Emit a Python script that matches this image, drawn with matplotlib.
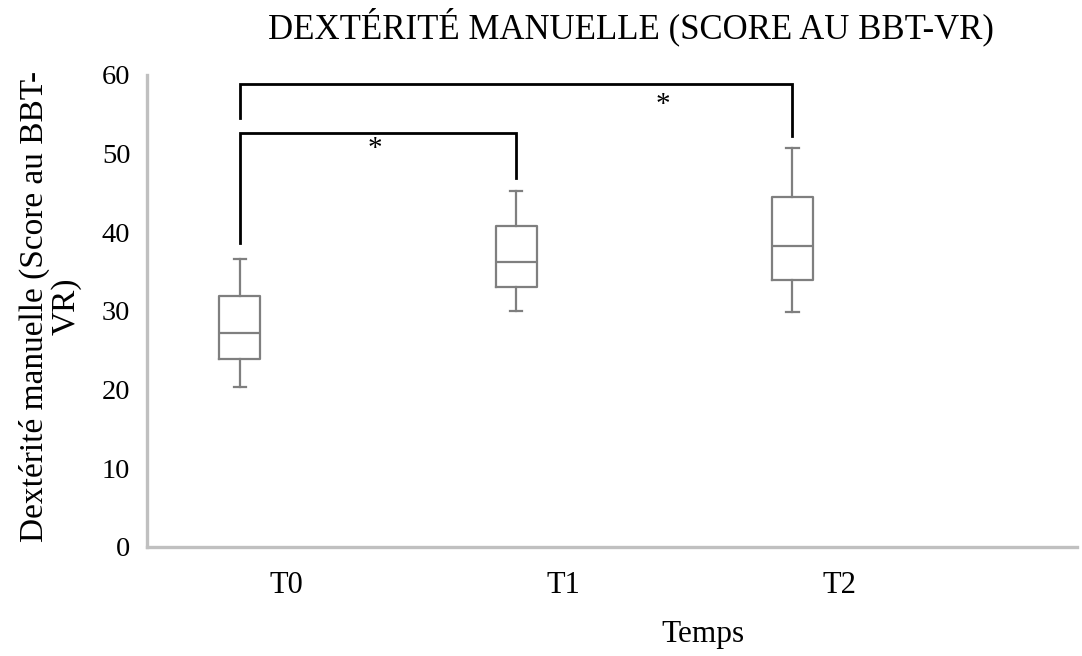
import matplotlib
matplotlib.use("Agg")
import matplotlib.pyplot as plt

plt.rcParams['font.family'] = ['Liberation Serif', 'DejaVu Serif']

# data
groups = ["T0", "T1", "T2"]
whislo = [20.3, 30.0, 29.9]
q1 = [23.9, 33.0, 34.0]
med = [27.2, 36.2, 38.2]
q3 = [31.9, 40.8, 44.5]
whishi = [36.6, 45.2, 50.7]

# significance brackets: (from, to, bar height, left leg end, right leg end)
brk_from = [0, 0]
brk_to = [1, 2]
brk_top = [52.6, 58.8]
brk_left_end = [38.6, 54.5]
brk_right_end = [46.9, 52.3]
brk_star_x = [0.49, 1.53]
brk_star_y = [50.6, 56.2]
brk_label = ["*", "*"]

positions = list(range(len(groups)))

fig = plt.figure(figsize=(10.82, 6.56), dpi=100)
ax = fig.add_axes([147 / 1082, 1 - 547 / 656, 930 / 1082, 472 / 656])

stats = []
for i, g in enumerate(groups):
    stats.append(dict(label=g, whislo=whislo[i], q1=q1[i], med=med[i],
                      q3=q3[i], whishi=whishi[i], fliers=[]))

grey = "#7f7f7f"
ax.bxp(stats, positions=positions, widths=0.148, showfliers=False,
       capwidths=0.045,
       boxprops=dict(color=grey, linewidth=1.6),
       whiskerprops=dict(color=grey, linewidth=1.6),
       capprops=dict(color=grey, linewidth=1.6),
       medianprops=dict(color=grey, linewidth=1.6))

# brackets
for a, b, top, le, re, sx, sy, lab in zip(brk_from, brk_to, brk_top,
                                          brk_left_end, brk_right_end,
                                          brk_star_x, brk_star_y, brk_label):
    ax.plot([a, a, b, b], [le, top, top, re], color="black", lw=2.0,
            solid_joinstyle="miter")
    ax.text(sx, sy, lab, ha="center", va="center", fontsize=21)

ax.set_xlim(-0.336, 3.03)
ax.set_ylim(0, 60)
ax.set_yticks(range(0, 61, 10))
ax.set_xticks([p + 0.17 for p in positions])
ax.set_xticklabels(groups)
ax.tick_params(axis="both", length=0)
ax.tick_params(axis="y", labelsize=20.5, pad=12)
ax.tick_params(axis="x", labelsize=22, pad=17)

for s in ["top", "right"]:
    ax.spines[s].set_visible(False)
for s in ["left", "bottom"]:
    ax.spines[s].set_color("#c0c0c0")
    ax.spines[s].set_linewidth(2.4)

ax.set_ylabel("Dextérité manuelle (Score au BBT-\nVR)", fontsize=24,
              linespacing=1.05)
ax.yaxis.set_label_coords(-0.07, 0.51)
ax.set_xlabel("Temps", fontsize=22.5)
ax.xaxis.set_label_coords(0.598, -0.155)

fig.text(631 / 1082, 1 - 27 / 656, "DEXTÉRITÉ MANUELLE (SCORE AU BBT-VR)",
         ha="center", va="center", fontsize=25)

fig.savefig("out.png", dpi=100)
